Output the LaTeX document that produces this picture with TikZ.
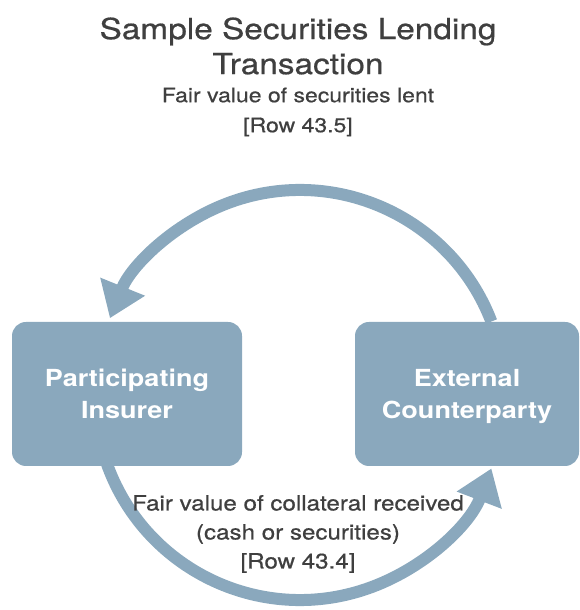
\documentclass[tikz,border=0pt]{standalone}
\usepackage{fontspec}
\setmainfont{TeX Gyre Heros}[FakeStretch=1.15]
\newfontfamily\capfont{TeX Gyre Heros}[FakeStretch=1.15,FakeBold=0.6]
\usetikzlibrary{arrows.meta,calc}
\definecolor{boxblue}{HTML}{8AA8BD}
\definecolor{txtgray}{HTML}{3F3F3F}
\begin{document}
\begin{tikzpicture}[x=1pt,y=1pt,
  party/.style={rectangle, rounded corners=14pt, fill=boxblue, minimum height=144pt,
    text=white, font=\fontsize{23.5}{32}\selectfont\bfseries, align=center, inner sep=0pt,
    text depth=0pt},
  flow/.style={draw=boxblue, line width=12pt, -{Triangle[width=46pt,length=34pt]}},
  caption/.style={text=txtgray, align=center, inner sep=0pt}]
\useasboundingbox (0,0) rectangle (579,610);
\coordinate (c) at (300,215);
\coordinate (topstart) at ($(c)+(21:205)$);
\coordinate (botstart) at ($(c)+(199:205)$);
\draw[flow] (topstart) arc[start angle=21, end angle=158, radius=205];
\draw[flow] (botstart) arc[start angle=199, end angle=339, radius=205];
\node[party, minimum width=230pt] (ins) at (127,216) {Participating\\Insurer};
\node[party, minimum width=224pt] (cp) at (467,216) {External\\Counterparty};
\node[caption, font=\capfont\fontsize{29}{35}\selectfont] (title) at (298,564) {Sample Securities Lending\\Transaction};
\node[caption, font=\capfont\fontsize{20}{30}\selectfont] (lent) at (298,498) {Fair value of securities lent\\{[Row 43.5]}};
\node[caption, font=\capfont\fontsize{21}{29}\selectfont] (coll) at (298,76) {Fair value of collateral received\\(cash or securities)\\{[Row 43.4]}};
\end{tikzpicture}
\end{document}
